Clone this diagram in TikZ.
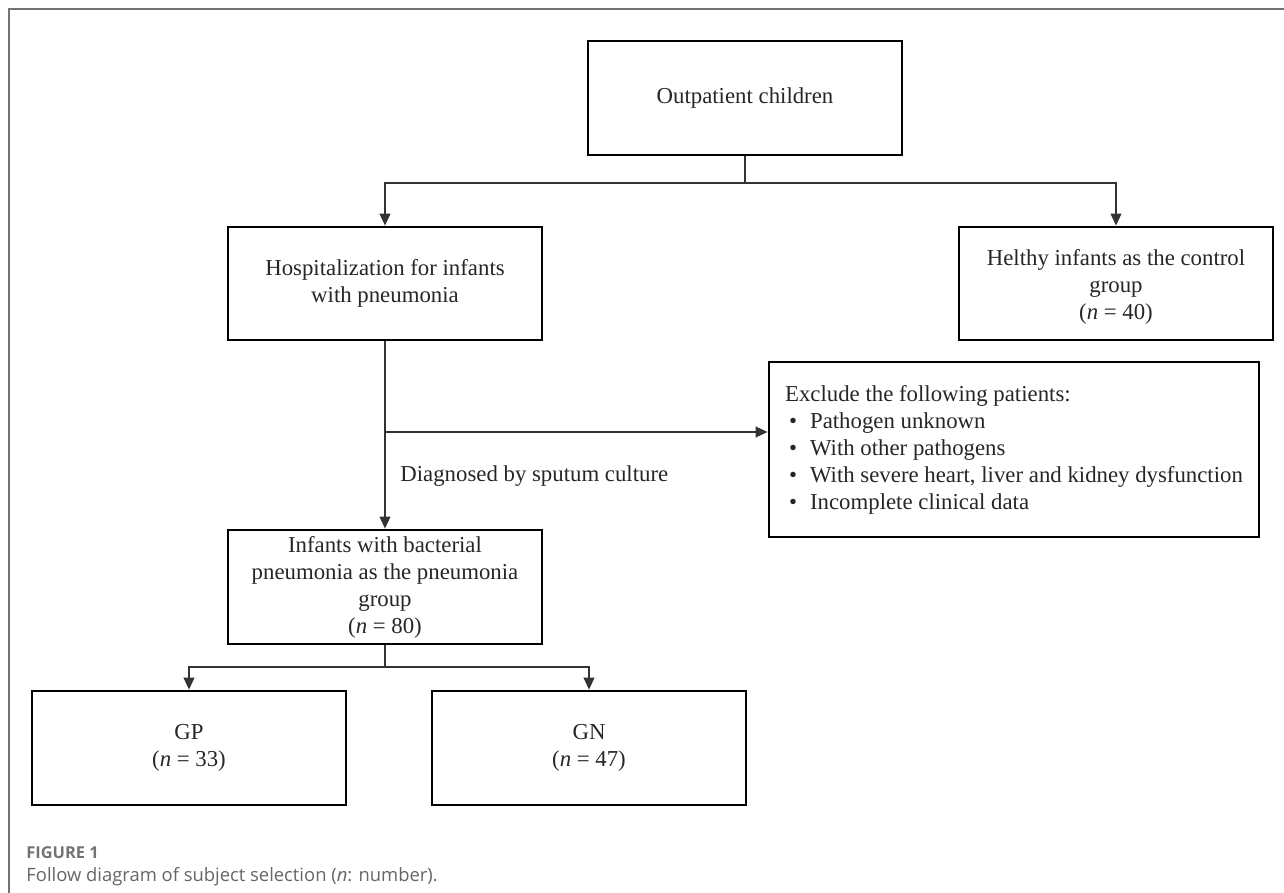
\documentclass[tikz,border=0pt]{standalone}
\usepackage{fontspec}
\setmainfont{Liberation Serif}
\newfontfamily\capfont{Open Sans}
\usetikzlibrary{arrows.meta,positioning}
\newcommand{\exbullet}{\makebox[12.5pt][l]{\hspace{2pt}\textbullet}}

\begin{document}
\begin{tikzpicture}[x=0.5pt,y=-0.5pt,>={Triangle[length=6pt,width=5.4pt]},
    box/.style={draw=black,line width=1.4pt,minimum width=157pt,minimum height=57pt,
      align=center,inner sep=0pt,font=\fontsize{11.4}{13.5}\selectfont,text=black!85},
    line/.style={draw=black!80,line width=0.65pt},
    frame/.style={draw=black!55,line width=0.8pt}]
  \useasboundingbox (0,0) rectangle (1284,893);
  \draw[frame] (9,893) -- (9,9) -- (1284,9);

  \node[box] (out) at (745,98) {Outpatient children};
  \node[box,minimum height=56.5pt] (hosp) at (385,283.5) {Hospitalization for infants\\with pneumonia};
  \node[box,minimum height=56.5pt] (healthy) at (1116,283.5) {\rule{0pt}{11pt}Helthy infants as the control\\group\\(\textit{n} = 40)};
  \node[box,minimum width=245pt,minimum height=87.5pt,align=left] (excl) at (1014,449.5)
    {Exclude the following patients:\\
     \exbullet Pathogen unknown\\
     \exbullet With other pathogens\\
     \exbullet With severe heart, liver and kidney dysfunction\\
     \exbullet Incomplete clinical data};
  \node[box] (infants) at (385,587) {Infants with bacterial\\pneumonia as the pneumonia\\group\\(\textit{n} = 80)};
  \node[box] (gp) at (189,748) {GP\\(\textit{n} = 33)};
  \node[box] (gn) at (589,748) {GN\\(\textit{n} = 47)};
  \node[anchor=west,inner sep=0pt,text=black!85,font=\fontsize{11.4}{13.5}\selectfont] (diag) at (400,476) {Diagnosed by sputum culture};

  \coordinate (split1) at (745,183);
  \coordinate (split2) at (385,432);
  \coordinate (split3) at (385,667);
  \draw[line] (out) -- (split1);
  \draw[line,->] (split1) -| (hosp);
  \draw[line,->] (split1) -| (healthy);
  \draw[line,->] (hosp) -- (infants);
  \draw[line,->] (split2) -- (split2 -| excl.west);
  \draw[line] (infants) -- (split3);
  \draw[line,->] (split3) -| (gp);
  \draw[line,->] (split3) -| (gn);

  \node[anchor=west,inner sep=0pt,text=black!55,font=\capfont\bfseries\fontsize{8.2}{10}\selectfont] (figlabel) at (26,853) {FIGURE 1};
  \node[anchor=west,inner sep=0pt,text=black!60,font=\capfont\fontsize{9.2}{11}\selectfont] (figcaption) at (26,877) {Follow diagram of subject selection (\textit{n}: number).};
\end{tikzpicture}
\end{document}
